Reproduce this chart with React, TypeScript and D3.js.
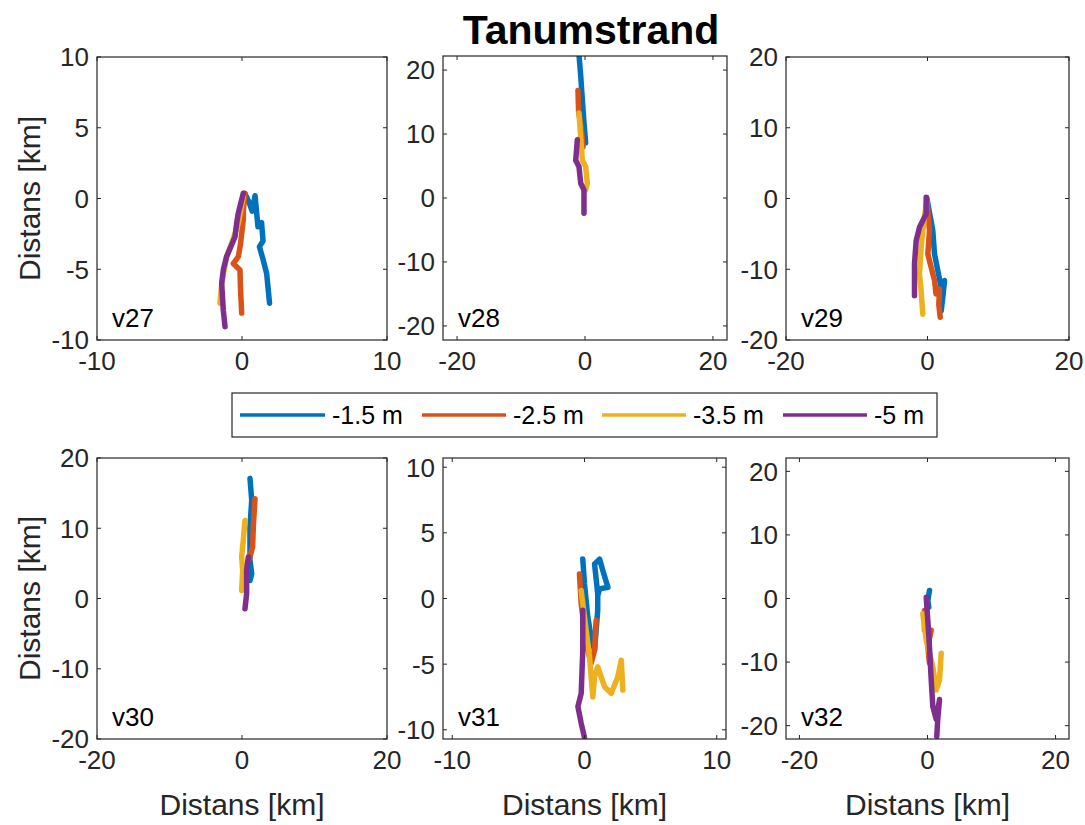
import React from "react";
import * as d3 from "d3";

// ---- data (km) ----
type P = [number, number];
const seriesNames = ["-1.5 m", "-2.5 m", "-3.5 m", "-5 m"];
const seriesColors = ["#0072BD", "#D95319", "#EDB120", "#7E2F8E"];
const panelLabels = ["v27", "v28", "v29", "v30", "v31", "v32"];

const v27_15: P[] = [[0.2,0.35],[0.5,-0.3],[0.7,-0.9],[0.9,0.2],[1.0,-0.9],[1.1,-2.0],[1.35,-1.7],[1.45,-3.0],[1.2,-3.4],[1.45,-4.3],[1.7,-5.3],[1.9,-7.4]];
const v27_25: P[] = [[0.2,0.37],[0.1,-0.8],[0.09,-1.5],[-0.1,-3.2],[-0.25,-4.1],[-0.6,-4.6],[-0.14,-5.05],[-0.1,-6.5],[-0.02,-8.1]];
const v27_35: P[] = [[0.09,0.13],[-0.25,-1.75],[-0.71,-3.17],[-1.06,-4.1],[-1.4,-6.0],[-1.52,-7.4]];
const v27_5: P[] = [[0.09,0.37],[-0.26,-1.05],[-0.37,-1.75],[-0.48,-2.7],[-1.06,-4.1],[-1.29,-5.05],[-1.4,-6.0],[-1.29,-7.9],[-1.17,-9.06]];

const v28_15: P[] = [[-0.94,22.4],[-0.67,19.1],[-0.42,15.4],[-0.16,11.8],[0.1,8.6]];
const v28_25: P[] = [[-1.1,16.8],[-1.0,13.5],[-0.6,11],[-0.3,8]];
const v28_35: P[] = [[-0.94,13.3],[-0.67,9.6],[-0.42,5.9],[0.1,4.9],[0.36,2.3],[0.1,1.25]];
const v28_5: P[] = [[-1.2,9.1],[-1.45,5.9],[-0.94,4.9],[-0.67,2.3],[-0.16,1.25],[-0.16,-2.4]];

const v29_15: P[] = [[-0.1,0.1],[0.75,-4.54],[0.99,-7.84],[1.46,-10.2],[1.94,-12.6],[2.41,-11.6],[2.17,-13.9],[1.94,-15.9]];
const v29_25: P[] = [[-0.1,0.0],[0.28,-4.54],[0.05,-7.84],[0.52,-9.74],[1.0,-11.6],[1.2,-13.5],[1.7,-12.8],[1.6,-15],[1.8,-16.8]];
const v29_35: P[] = [[-0.19,-0.8],[-0.66,-4.54],[-0.9,-6.9],[-1.13,-10.7],[-0.9,-13.05],[-0.66,-16.35]];
const v29_5: P[] = [[-0.19,0.19],[-0.19,-2.17],[-1.13,-4.07],[-1.6,-5.96],[-1.84,-9.26],[-1.84,-13.76]];

const v30_15: P[] = [[1.1,17.1],[1.34,14],[1.1,10.2],[1.1,5.43],[1.34,3.53],[1.1,2.57]];
const v30_25: P[] = [[1.79,14.2],[1.56,10.2],[1.47,7.4],[1.1,5.9],[0.87,5.43]];
const v30_35: P[] = [[0.41,11.1],[0.18,8.3],[-0.05,5.9],[0.1,4],[-0.05,1.14]];
const v30_5: P[] = [[0.87,5.9],[0.64,4],[0.64,0.67],[0.41,-1.47]];

const v31_15: P[] = [[-0.13,3.0],[0,1.11],[0.25,-1.41],[0.5,-2.93],[0.76,-3.94],[0.88,-2.42],[1.0,-0.9],[1.0,0.36],[0.76,2.63],[1.14,3.0],[1.39,2.12],[1.77,0.86],[1.14,0.73],[1.0,0.2]];
const v31_25: P[] = [[-0.38,1.87],[-0.25,-0.4],[0.13,-3.43],[0.5,-4.95],[0.76,-3.94],[0.88,-1.67]];
const v31_35: P[] = [[-0.25,0.6],[0,-1.41],[0.38,-4.44],[0.63,-7.5],[0.76,-5.96],[1.0,-5.2],[1.52,-6.72],[2.02,-7.22],[2.52,-5.96],[2.78,-4.7],[2.9,-6.97]];
const v31_5: P[] = [[-0.13,-0.9],[-0.13,-3.94],[-0.25,-7.22],[-0.5,-8.23],[-0.25,-9.5],[0,-10.6]];

const v32_15: P[] = [[0.31,1.25],[0.05,-0.31],[0.2,-1.36]];
const v32_25: P[] = [[-0.47,-1.88],[-0.47,-5.0],[0.58,-5],[0.05,-7.6],[0.31,-10.2]];
const v32_35: P[] = [[-0.73,-2.4],[-0.2,-6.56],[0.83,-10.7],[1.36,-14.4],[1.88,-12.8],[2.14,-8.6]];
const v32_5: P[] = [[-0.2,0.2],[0.05,-3.44],[0.31,-7.6],[0.58,-12.8],[0.83,-17],[1.36,-19],[1.88,-15.9],[1.6,-19],[1.45,-21.7]];

const panelData: P[][][] = [
  [v27_15, v27_25, v27_35, v27_5],
  [v28_15, v28_25, v28_35, v28_5],
  [v29_15, v29_25, v29_35, v29_5],
  [v30_15, v30_25, v30_35, v30_5],
  [v31_15, v31_25, v31_35, v31_5],
  [v32_15, v32_25, v32_35, v32_5],
];
const xTickSets = [[-10,0,10],[-20,0,20],[-20,0,20],[-20,0,20],[-10,0,10],[-20,0,20]];
const yTickSets = [[-10,-5,0,5,10],[-20,-10,0,10,20],[-20,-10,0,10,20],[-20,-10,0,10,20],[-10,-5,0,5,10],[-20,-10,0,10,20]];
const limits = [10, 22.2, 20, 20, 10.7, 22.1];

// ---- layout ----
const boxes = [
  { x0: 97, x1: 387, y0: 57, y1: 340 },
  { x0: 443, x1: 727, y0: 56, y1: 340 },
  { x0: 786, x1: 1069, y0: 57, y1: 340 },
  { x0: 97, x1: 387, y0: 458, y1: 739 },
  { x0: 443, x1: 726, y0: 458, y1: 739 },
  { x0: 786, x1: 1069, y0: 458, y1: 739 },
];
const FONT = "'Liberation Sans', Arial, Helvetica, sans-serif";
const AX = "#262626";

function Panel({ i }: { i: number }) {
  const b = boxes[i];
  const L = limits[i];
  const x = d3.scaleLinear().domain([-L, L]).range([b.x0, b.x1]);
  const y = d3.scaleLinear().domain([-L, L]).range([b.y1, b.y0]);
  const line = d3.line<P>().x((d) => x(d[0])).y((d) => y(d[1]));
  const bottomRow = i >= 3;
  const leftCol = i % 3 === 0;
  const tl = 4;
  return (
    <g>
      <defs>
        <clipPath id={`clip${i}`}>
          <rect x={b.x0} y={b.y0} width={b.x1 - b.x0} height={b.y1 - b.y0} />
        </clipPath>
      </defs>
      <rect x={b.x0} y={b.y0} width={b.x1 - b.x0} height={b.y1 - b.y0} fill="white" />
      <g clipPath={`url(#clip${i})`}>
        {panelData[i].map((s, k) => (
          <path key={k} d={line(s) || ""} fill="none" stroke={seriesColors[k]} strokeWidth={5.5} strokeLinejoin="round" strokeLinecap="round" />
        ))}
      </g>
      <rect x={b.x0} y={b.y0} width={b.x1 - b.x0} height={b.y1 - b.y0} fill="none" stroke={AX} strokeWidth={1.2} />
      {xTickSets[i].map((t) => (
        <g key={"x" + t}>
          <line x1={x(t)} x2={x(t)} y1={b.y1} y2={b.y1 - tl} stroke={AX} />
          <line x1={x(t)} x2={x(t)} y1={b.y0} y2={b.y0 + tl} stroke={AX} />
          <text x={x(t)} y={b.y1 + 30} textAnchor="middle" fontSize={26} fontFamily={FONT} fill={AX}>{t}</text>
        </g>
      ))}
      {yTickSets[i].map((t) => (
        <g key={"y" + t}>
          <line x1={b.x0} x2={b.x0 + tl} y1={y(t)} y2={y(t)} stroke={AX} />
          <line x1={b.x1} x2={b.x1 - tl} y1={y(t)} y2={y(t)} stroke={AX} />
          <text x={b.x0 - 8} y={y(t)} dy="0.36em" textAnchor="end" fontSize={26} fontFamily={FONT} fill={AX}>{t}</text>
        </g>
      ))}
      <text x={b.x0 + 15} y={b.y1 - 13} fontSize={26} fontFamily={FONT} fill="#000">{panelLabels[i]}</text>
      {bottomRow && (
        <text x={(b.x0 + b.x1) / 2} y={b.y1 + 76} textAnchor="middle" fontSize={30} fontFamily={FONT} fill={AX}>Distans [km]</text>
      )}
      {leftCol && (
        <text transform={`translate(40,${(b.y0 + b.y1) / 2}) rotate(-90)`} textAnchor="middle" fontSize={30} fontFamily={FONT} fill={AX}>Distans [km]</text>
      )}
    </g>
  );
}

const legendLines = [[240, 325], [422, 506], [602, 686], [783, 867]];

export default function App() {
  return (
    <svg width={1085} height={825} style={{ position: "absolute", left: 0, top: 0, background: "white" }}>
      <rect width={1085} height={825} fill="white" />
      <text x={591} y={44} textAnchor="middle" fontSize={41} fontWeight="bold" fontFamily={FONT} fill="#000">Tanumstrand</text>
      {boxes.map((_, i) => <Panel key={i} i={i} />)}
      <g>
        <rect x={232} y={393} width={705} height={44} fill="white" stroke={AX} strokeWidth={1.2} />
        {seriesNames.map((n, k) => (
          <g key={n}>
            <line x1={legendLines[k][0]} x2={legendLines[k][1]} y1={415} y2={415} stroke={seriesColors[k]} strokeWidth={3.5} />
            <text x={legendLines[k][1] + 7} y={415} dy="0.36em" fontSize={25} fontFamily={FONT} fill="#000">{n}</text>
          </g>
        ))}
      </g>
    </svg>
  );
}
